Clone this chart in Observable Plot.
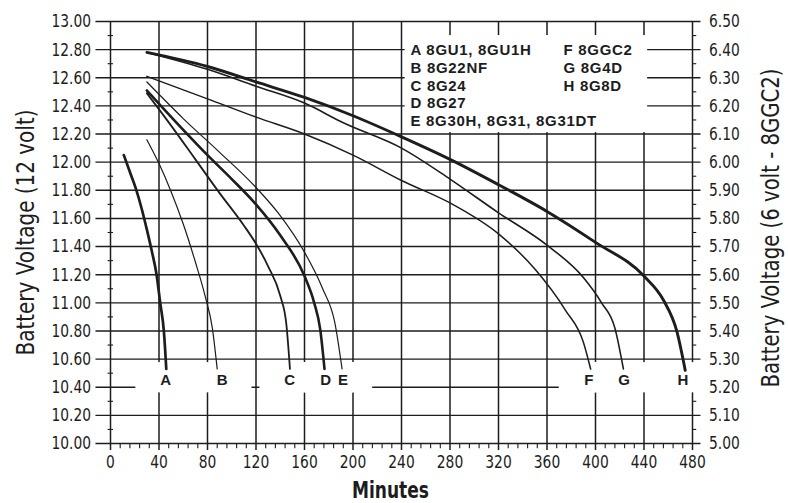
<!DOCTYPE html>
<html>
<head>
<meta charset="utf-8">
<script src="https://cdn.jsdelivr.net/npm/d3@7"></script>
<script src="https://cdn.jsdelivr.net/npm/@observablehq/plot@0.6"></script>
<style>
  html, body { margin: 0; padding: 0; background: #ffffff; }
  #chart svg { display: block; }
</style>
</head>
<body>
<div id="chart"></div>
<script>
// ---- data ----
const series = ["A", "B", "C", "D", "E", "F", "G", "H"];
const models = ["8GU1, 8GU1H", "8G22NF", "8G24", "8G27", "8G30H, 8G31, 8G31DT", "8GGC2", "8G4D", "8G8D"];

const minutesA = [11, 16, 21, 26, 30, 34, 38, 41, 44, 46];
const voltsA   = [12.05, 11.93, 11.81, 11.66, 11.52, 11.37, 11.20, 11.00, 10.80, 10.53];

const minutesB = [30, 40, 50, 60, 70, 78, 84, 88];
const voltsB   = [12.16, 11.99, 11.79, 11.56, 11.29, 11.05, 10.82, 10.53];

const minutesC = [30, 50, 70, 90, 110, 120, 130, 140, 145, 148];
const voltsC   = [12.49, 12.26, 12.02, 11.78, 11.55, 11.42, 11.26, 11.05, 10.85, 10.53];

const minutesD = [30, 60, 80, 100, 120, 140, 160, 168, 173, 176.5];
const voltsD   = [12.51, 12.23, 12.05, 11.88, 11.70, 11.48, 11.19, 11.00, 10.81, 10.53];

const minutesE = [30, 60, 90, 120, 140, 160, 175, 185, 191];
const voltsE   = [12.57, 12.31, 12.07, 11.82, 11.62, 11.36, 11.10, 10.86, 10.53];

const minutesF = [30, 80, 120, 160, 200, 240, 280, 320, 350, 375, 390, 396];
const voltsF   = [12.61, 12.45, 12.32, 12.20, 12.05, 11.87, 11.71, 11.49, 11.24, 10.95, 10.72, 10.53];

const minutesG = [30, 80, 120, 160, 192, 240, 280, 320, 360, 390, 405, 416, 423];
const voltsG   = [12.78, 12.66, 12.54, 12.42, 12.28, 12.10, 11.88, 11.64, 11.41, 11.18, 11.00, 10.82, 10.53];

const minutesH = [30, 80, 120, 160, 200, 240, 280, 320, 360, 400, 440, 456, 467, 474];
const voltsH   = [12.78, 12.68, 12.57, 12.46, 12.33, 12.18, 12.02, 11.84, 11.65, 11.43, 11.19, 11.02, 10.80, 10.52];

const labelMinutes = [45.4, 92.2, 147.7, 177.4, 191.7, 394.6, 423.5, 472.1];
const labelVolt = 10.45;

const voltTicks = [10.0, 10.2, 10.4, 10.6, 10.8, 11.0, 11.2, 11.4, 11.6, 11.8, 12.0, 12.2, 12.4, 12.6, 12.8, 13.0];
const minorVoltTicks = [10.1, 10.3, 10.5, 10.7, 10.9, 11.1, 11.3, 11.5, 11.7, 11.9, 12.1, 12.3, 12.5, 12.7, 12.9];
const minuteTicks = [0, 40, 80, 120, 160, 200, 240, 280, 320, 360, 400, 440, 480];
const minorMinuteTicks = d3.range(0, 481, 8).filter(m => m % 40 !== 0);

const leftTitle = "Battery Voltage (12 volt)";
const rightTitle = "Battery Voltage (6 volt - 8GGC2)";
const xTitle = "Minutes";

// ---- build table ----
const minutesBySeries = [minutesA, minutesB, minutesC, minutesD, minutesE, minutesF, minutesG, minutesH];
const voltsBySeries = [voltsA, voltsB, voltsC, voltsD, voltsE, voltsF, voltsG, voltsH];
const table = series.flatMap((s, i) =>
  minutesBySeries[i].map((m, j) => ({series: s, minutes: m, volts: voltsBySeries[i][j]})));

// ---- styling ----
const ink = "#1d1d1d";
const narrow = "'Liberation Sans Narrow', 'Arial Narrow', 'DejaVu Sans Condensed', sans-serif";
const sans = "'Liberation Sans', Arial, Helvetica, sans-serif";
const widths = {A: 2.7, B: 1.2, C: 1.8, D: 2.6, E: 1.2, F: 1.5, G: 1.6, H: 2.9};

const mL = 110, mR = 96, mT = 21, mB = 60;
const frameMidX = (mL + (788 - mR)) / 2;
const frameMidY = (mT + (503 - mB)) / 2;

const legendLeft = series.slice(0, 5).map((s, i) => `${s} ${models[i]}`).join("\n");
const legendRight = series.slice(5).map((s, i) => `${s} ${models[i + 5]}`).join("\n");

const chart = Plot.plot({
  width: 788,
  height: 503,
  marginLeft: mL,
  marginRight: mR,
  marginTop: mT,
  marginBottom: mB,
  x: {domain: [0, 480]},
  y: {domain: [10, 13]},
  style: {fontFamily: narrow, color: ink, background: "#ffffff", overflow: "visible"},
  marks: [
    // grid and ticks
    Plot.ruleY(voltTicks, {x1: -12, x2: 487, stroke: ink, strokeWidth: 1.4}),
    Plot.ruleX(minuteTicks, {y1: 9.95, y2: 13, stroke: ink, strokeWidth: 1.5}),
    Plot.ruleX(minorMinuteTicks, {y1: 9.962, y2: 10, stroke: ink, strokeWidth: 1.1}),
    Plot.ruleY(minorVoltTicks, {x1: -2, x2: 2.5, stroke: ink, strokeWidth: 1.1}),
    Plot.ruleY(minorVoltTicks, {x1: 480, x2: 483.5, stroke: ink, strokeWidth: 1.1}),
    // white boxes behind the end labels and the legend
    Plot.rect(labelMinutes, {x1: d => d - 24.5, x2: d => Math.min(d + 24.5, 490), y1: 10.36, y2: 10.575, fill: "#ffffff"}),
    Plot.rect([0], {x1: 243, x2: 443, y1: 12.21, y2: 12.9, fill: "#ffffff"}),
    // discharge curves
    ...series.map(s => Plot.line(table.filter(d => d.series === s), {
      x: "minutes", y: "volts", curve: "monotone-x",
      stroke: ink, strokeWidth: widths[s], strokeLinecap: "round"
    })),
    // end labels
    Plot.text(series, {
      x: (d, i) => labelMinutes[i], y: labelVolt, text: d => d,
      fontFamily: sans, fontWeight: "bold", fontSize: 15, fill: ink
    }),
    // legend
    Plot.text([legendLeft], {
      frameAnchor: "top-left", dx: 410 - mL, dy: 42 - mT, lineAnchor: "top", textAnchor: "start",
      lineHeight: 1.183, fontFamily: sans, fontWeight: "bold", fontSize: 15, fill: ink
    }),
    Plot.text([legendRight], {
      frameAnchor: "top-left", dx: 563 - mL, dy: 42 - mT, lineAnchor: "top", textAnchor: "start",
      lineHeight: 1.183, fontFamily: sans, fontWeight: "bold", fontSize: 15, fill: ink
    }),
    // axes
    Plot.axisY({anchor: "left", ticks: voltTicks, tickSize: 0, tickPadding: 19.5,
      tickFormat: d => d.toFixed(2), fontSize: 18.5, label: null}),
    Plot.axisY({anchor: "right", ticks: voltTicks, tickSize: 0, tickPadding: 16.5,
      tickFormat: d => (d / 2).toFixed(2), fontSize: 18.5, label: null}),
    Plot.axisX({anchor: "bottom", ticks: minuteTicks, tickSize: 0, tickPadding: 11,
      tickFormat: d => String(d), fontSize: 18.5, label: null}),
    // axis titles
    Plot.text([leftTitle], {
      frameAnchor: "left", rotate: -90, dx: 26 - mL, dy: 232 - frameMidY,
      lineAnchor: "middle", textAnchor: "middle", fontSize: 24, fill: ink
    }),
    Plot.text([rightTitle], {
      frameAnchor: "right", rotate: -90, dx: 771 - (788 - mR), dy: 227.5 - frameMidY,
      lineAnchor: "middle", textAnchor: "middle", fontSize: 24, fill: ink
    }),
    Plot.text([xTitle], {
      frameAnchor: "bottom", dx: 390 - frameMidX, dy: 482 - (503 - mB),
      lineAnchor: "top", textAnchor: "middle", fontWeight: "bold", fontSize: 22.5, fill: ink
    })
  ]
});

document.getElementById("chart").appendChild(chart);

// condense the lettering to the narrow face of the original
const svg = d3.select(chart);
svg.selectAll('g[aria-label="y-axis tick label"] text, g[aria-label="x-axis tick label"] text').each(function () {
  const w = this.getComputedTextLength();
  this.setAttribute("textLength", (w * 0.83).toFixed(1));
  this.setAttribute("lengthAdjust", "spacingAndGlyphs");
});
const fitText = (content, length) => svg.selectAll("text")
  .filter(function () { return this.textContent === content; })
  .attr("textLength", length).attr("lengthAdjust", "spacingAndGlyphs");
fitText(leftTitle, 246);
fitText(rightTitle, 319);
fitText(xTitle, 77);
// slightly open letter spacing of the bold legend face
svg.selectAll("text")
  .filter(function () { return this.querySelector("tspan") !== null; })
  .style("letter-spacing", "0.7px");
</script>
</body>
</html>
